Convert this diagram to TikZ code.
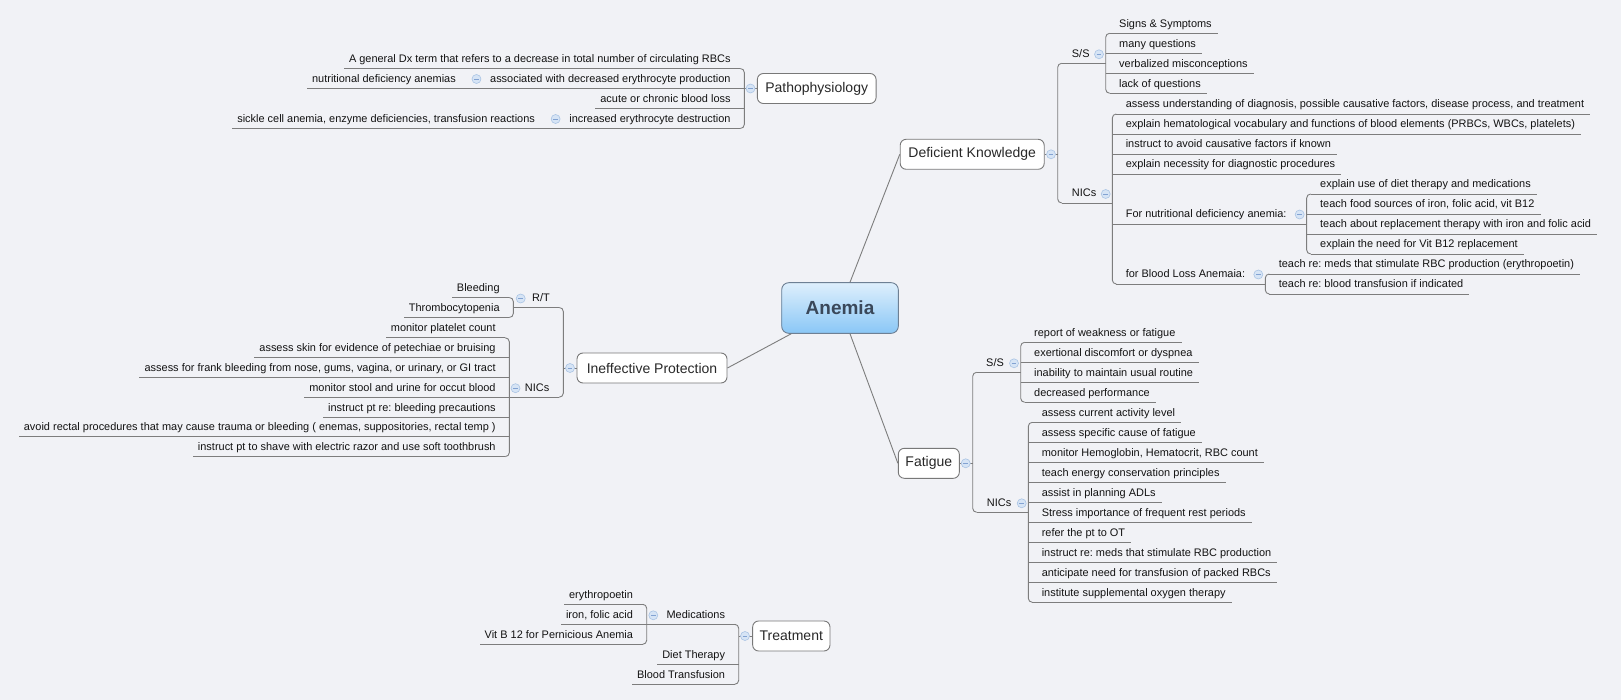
\documentclass[tikz,border=0pt]{standalone}
\usepackage{fontspec}
\setmainfont{Liberation Sans}
\usetikzlibrary{calc}
\frenchspacing
\definecolor{bg}{RGB}{241,242,246}
\definecolor{lnc}{RGB}{125,125,125}
\definecolor{bxc}{RGB}{120,120,120}
\definecolor{txc}{RGB}{18,18,18}
\definecolor{mtc}{RGB}{40,40,40}
\definecolor{cfc}{RGB}{214,228,245}
\definecolor{cdc}{RGB}{170,196,228}
\definecolor{cmc}{RGB}{130,162,210}
\definecolor{antop}{RGB}{222,239,252}
\definecolor{anbot}{RGB}{138,199,246}
\definecolor{anbd}{RGB}{110,128,148}
\definecolor{antx}{RGB}{58,72,90}
\tikzset{
 conn/.style={draw=lnc, line width=0.9pt},
 sub/.style={font=\fontsize{10.95}{13}\selectfont, text=txc, inner sep=0pt},
 mainbox/.style={draw=bxc, fill=white, rounded corners=6pt, line width=0.9pt, font=\fontsize{14}{16}\selectfont, text=mtc, inner sep=0pt},
 marker/.style={circle, draw=cdc, fill=cfc, minimum size=9pt, inner sep=0pt, line width=0.6pt,
   path picture={\draw[cmc, line width=0.8pt] ([xshift=-2.3pt]path picture bounding box.center) -- ([xshift=2.3pt]path picture bounding box.center);}},
}
% right child: name, bracket coord, y, text, start offset
\newcommand\RC[5]{%
 \node[sub, anchor=base west] (#1) at ($(#2)+(13.3,#3-6)$) {#4};
 \draw[conn] ($(#2)+(#5,#3)$) -- ($(#1.base east)+(6,6)$);}
% left child
\newcommand\LC[5]{%
 \node[sub, anchor=base east] (#1) at ($(#2)+(-13.5,#3-6)$) {#4};
 \draw[conn] ($(#2)+(-#5,#3)$) -- ($(#1.base west)+(-5,6)$);}
\newcommand\RBr[3]{\draw[conn, rounded corners=4pt] ($(#1)+(4,#2)$) -- ($(#1)+(0,#2)$) -- ($(#1)+(0,#3)$) -- ($(#1)+(4,#3)$);}
\newcommand\LBr[3]{\draw[conn, rounded corners=4pt] ($(#1)+(-4,#2)$) -- ($(#1)+(0,#2)$) -- ($(#1)+(0,#3)$) -- ($(#1)+(-4,#3)$);}
\begin{document}
\begin{tikzpicture}[x=1pt,y=-1pt]
\fill[bg] (0,0) rectangle (1621,700);
\useasboundingbox (0,0) rectangle (1621,700);

% central and main topics
\node[draw=anbd, rounded corners=7pt, top color=antop, bottom color=anbot, minimum width=116.6pt, minimum height=50.6pt, inner sep=0pt, line width=0.9pt, font=\bfseries\fontsize{19}{22}\selectfont, text=antx] (an) at (840,308) {Anemia};
\node[mainbox, minimum width=144pt, minimum height=30pt] (dk) at (972.2,154.3) {Deficient Knowledge};
\node[mainbox, minimum width=61pt, minimum height=30pt] (fa) at (928.8,463.3) {Fatigue};
\node[mainbox, minimum width=118.7pt, minimum height=30pt] (pa) at (816.7,88.5) {Pathophysiology};
\node[mainbox, minimum width=150pt, minimum height=30pt] (ip) at (652,368) {Ineffective Protection};
\node[mainbox, minimum width=77.3pt, minimum height=30pt] (tr) at (791.3,636) {Treatment};

\draw[conn] ($(an.north)+(10,0)$) -- (dk.west);
\draw[conn] ($(an.south)+(10,0)$) -- (fa.west);
\draw[conn] ($(an.south west)+(10,0)$) -- (ip.east);

% ---------- Deficient Knowledge ----------
\draw[conn] (dk.east) -- (1057.7,154.3);
\node[marker] (dkm) at (1051,154.3) {};
\coordinate (dkb) at (1057.7,0);
\RBr{dkb}{63.3}{203}
\node[sub, anchor=base west] (dkss) at (1071.7,57.3) {S/S};
\draw[conn] (1061.7,63.3) -- (1105.7,63.3);
\node[marker] (dkssm) at (1099,54.3) {};
\coordinate (dkssb) at (1105.7,0);
\RBr{dkssb}{33.3}{93.3}
\RC{dks1}{dkssb}{33.3}{Signs \& Symptoms}{4}
\RC{dks2}{dkssb}{53.3}{many questions}{0}
\RC{dks3}{dkssb}{73.3}{verbalized misconceptions}{0}
\RC{dks4}{dkssb}{93.3}{lack of questions}{4}
\node[sub, anchor=base west] (dkn) at (1071.7,197) {NICs};
\draw[conn] (1061.7,203) -- (1112.3,203);
\node[marker] (dknm) at (1105.7,194) {};
\coordinate (dknb) at (1112.3,0);
\RBr{dknb}{114}{284}
\RC{dkn1}{dknb}{114}{assess understanding of diagnosis, possible causative factors, disease process, and treatment}{4}
\RC{dkn2}{dknb}{134}{explain hematological vocabulary and functions of blood elements (PRBCs, WBCs, platelets)}{0}
\RC{dkn3}{dknb}{154}{instruct to avoid causative factors if known}{0}
\RC{dkn4}{dknb}{174}{explain necessity for diagnostic procedures}{0}
\node[sub, anchor=base west] (fn) at (1125.6,218) {For nutritional deficiency anemia:};
\coordinate (fnb) at ($(fn.base east)+(20,6)$);
\draw[conn] (1112.3,224) -- (fnb);
\node[marker] (fnm) at ($(fn.base east)+(13,-3.5)$) {};
\RBr{fnb}{-30}{30}
\RC{fn1}{fnb}{-30}{explain use of diet therapy and medications}{4}
\RC{fn2}{fnb}{-10}{teach food sources of iron, folic acid, vit B12}{0}
\RC{fn3}{fnb}{10}{teach about replacement therapy with iron and folic acid}{0}
\RC{fn4}{fnb}{30}{explain the need for Vit B12 replacement}{4}
\node[sub, anchor=base west] (bl) at (1125.6,278) {for Blood Loss Anemaia:};
\coordinate (blb) at ($(bl.base east)+(20,6)$);
\draw[conn] (1116.3,284) -- (blb);
\node[marker] (blm) at ($(bl.base east)+(13,-3.5)$) {};
\RBr{blb}{-10}{10}
\RC{bl1}{blb}{-10}{teach re: meds that stimulate RBC production (erythropoetin)}{4}
\RC{bl2}{blb}{10}{teach re: blood transfusion if indicated}{4}

% ---------- Fatigue ----------
\draw[conn] (fa.east) -- (972.7,463.3);
\node[marker] (fam) at (965.7,463.3) {};
\coordinate (fab) at (972.7,0);
\RBr{fab}{372.3}{512.3}
\node[sub, anchor=base west] (fass) at (986,366.3) {S/S};
\draw[conn] (976.7,372.3) -- (1020.7,372.3);
\node[marker] (fassm) at (1014,363.3) {};
\coordinate (fassb) at (1020.7,0);
\RBr{fassb}{342.3}{402.3}
\RC{fs1}{fassb}{342.3}{report of weakness or fatigue}{4}
\RC{fs2}{fassb}{362.3}{exertional discomfort or dyspnea}{0}
\RC{fs3}{fassb}{382.3}{inability to maintain usual routine}{0}
\RC{fs4}{fassb}{402.3}{decreased performance}{4}
\node[sub, anchor=base west] (fan) at (986.7,506.3) {NICs};
\draw[conn] (976.7,512.3) -- (1028.3,512.3);
\node[marker] (fanm) at (1021.7,503.3) {};
\coordinate (fanb) at (1028.3,0);
\RBr{fanb}{422.3}{602.3}
\RC{fn01}{fanb}{422.3}{assess current activity level}{4}
\RC{fn02}{fanb}{442.3}{assess specific cause of fatigue}{0}
\RC{fn03}{fanb}{462.3}{monitor Hemoglobin, Hematocrit, RBC count}{0}
\RC{fn04}{fanb}{482.3}{teach energy conservation principles}{0}
\RC{fn05}{fanb}{502.3}{assist in planning ADLs}{0}
\RC{fn06}{fanb}{522.3}{Stress importance of frequent rest periods}{0}
\RC{fn07}{fanb}{542.3}{refer the pt to OT}{0}
\RC{fn08}{fanb}{562.3}{instruct re: meds that stimulate RBC production}{0}
\RC{fn09}{fanb}{582.3}{anticipate need for transfusion of packed RBCs}{0}
\RC{fn10}{fanb}{602.3}{institute supplemental oxygen therapy}{4}

% ---------- Pathophysiology ----------
\draw[conn] (pa.west) -- (744.3,88.5);
\node[marker] (pam) at (750.5,88.5) {};
\coordinate (pab) at (744.3,0);
\LBr{pab}{68.5}{128.5}
\LC{pa1}{pab}{68.5}{A general Dx term that refers to a decrease in total number of circulating RBCs}{4}
\LC{pa2}{pab}{88.5}{associated with decreased erythrocyte production}{0}
\node[sub, anchor=base east] (pa2a) at ($(pa2.base west)+(-34,0)$) {nutritional deficiency anemias};
\draw[conn] ($(pa2.base west)+(-5,6)$) -- ($(pa2a.base west)+(-5,6)$);
\node[marker] (pa2m) at ($(pa2.base west)+(-13.5,-3.5)$) {};
\LC{pa3}{pab}{108.5}{acute or chronic blood loss}{0}
\LC{pa4}{pab}{128.5}{increased erythrocyte destruction}{4}
\node[sub, anchor=base east] (pa4a) at ($(pa4.base west)+(-34,0)$) {sickle cell anemia, enzyme deficiencies, transfusion reactions};
\draw[conn] ($(pa4.base west)+(-5,6)$) -- ($(pa4a.base west)+(-5,6)$);
\node[marker] (pa4m) at ($(pa4.base west)+(-13.5,-3.5)$) {};

% ---------- Ineffective Protection ----------
\draw[conn] (ip.west) -- (563.3,368);
\node[marker] (ipm) at (570,368) {};
\coordinate (ipb) at (563.3,0);
\LBr{ipb}{307.5}{397.2}
\node[sub, anchor=base east] (iprt) at (550,301.5) {R/T};
\draw[conn] (559.3,307.5) -- (513.3,307.5);
\node[marker] (iprtm) at (520.7,298.5) {};
\coordinate (iprtb) at (513.3,0);
\LBr{iprtb}{297.5}{317.5}
\LC{rt1}{iprtb}{297.5}{Bleeding}{4}
\LC{rt2}{iprtb}{317.5}{Thrombocytopenia}{4}
\node[sub, anchor=base east] (ipn) at (549.5,391.2) {NICs};
\draw[conn] (559.3,397.2) -- (509.3,397.2);
\node[marker] (ipnm) at (515.5,388.2) {};
\coordinate (ipnb) at (509.3,0);
\LBr{ipnb}{337.8}{456.6}
\LC{ip1}{ipnb}{337.8}{monitor platelet count}{4}
\LC{ip2}{ipnb}{357.6}{assess skin for evidence of petechiae or bruising}{0}
\LC{ip3}{ipnb}{377.4}{assess for frank bleeding from nose, gums, vagina, or urinary, or GI tract}{0}
\LC{ip4}{ipnb}{397.2}{monitor stool and urine for occut blood}{0}
\LC{ip5}{ipnb}{417}{instruct pt re: bleeding precautions}{0}
\LC{ip6}{ipnb}{436.8}{avoid rectal procedures that may cause trauma or bleeding ( enemas, suppositories, rectal temp )}{0}
\LC{ip7}{ipnb}{456.6}{instruct pt to shave with electric razor and use soft toothbrush}{4}

% ---------- Treatment ----------
\draw[conn] (tr.west) -- (738.7,636);
\node[marker] (trm) at (745,636) {};
\coordinate (trb) at (738.7,0);
\LBr{trb}{624.3}{684.3}
\node[sub, anchor=base east] (med) at (725.2,618.3) {Medications};
\draw[conn] (734.7,624.3) -- (646.7,624.3);
\node[marker] (medm) at (653.3,615.3) {};
\coordinate (medb) at (646.7,0);
\LBr{medb}{604.3}{644.3}
\LC{m1}{medb}{604.3}{erythropoetin}{4}
\LC{m2}{medb}{624.3}{iron, folic acid}{0}
\LC{m3}{medb}{644.3}{Vit B 12 for Pernicious Anemia}{4}
\LC{t2}{trb}{664.3}{Diet Therapy}{0}
\LC{t3}{trb}{684.3}{Blood Transfusion}{4}
\end{tikzpicture}
\end{document}
